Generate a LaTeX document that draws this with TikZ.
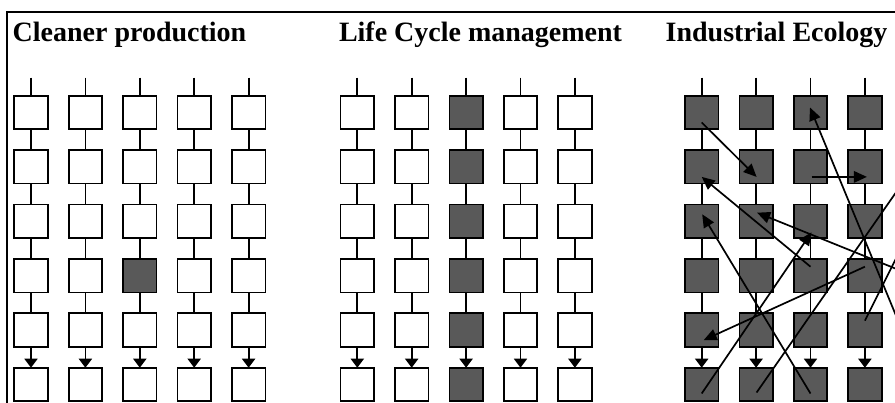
\documentclass[tikz,border=0pt]{standalone}
\usepackage{fontspec}
\setmainfont{Liberation Serif}
\usetikzlibrary{arrows.meta,calc}
\definecolor{boxgray}{RGB}{89,89,89}
\begin{document}
\begin{tikzpicture}[x=1pt,y=-1pt,
  box/.style={draw=black,line width=1.7pt,minimum size=33.5pt,inner sep=0pt,outer sep=0pt},
  link/.style={line width=1.8pt},
  flowdown/.style={line width=1.8pt,-{Triangle[length=9pt,width=13pt]}},
  jump/.style={line width=1.7pt,-{Triangle[length=13pt,width=11.5pt]}},
  frameline/.style={line width=1.8pt},
  title/.style={font=\bfseries\fontsize{28}{32}\selectfont,anchor=base west,inner sep=0pt}]
\useasboundingbox (0,0) rectangle (895,403);
\clip (0,0) rectangle (895,403);
\fill[white] (0,0) rectangle (895,403);
% frame
\draw[frameline] (6.7,403) -- (6.7,11.7) -- (895,11.7);
% titles
\node[title] (t1) at (12.5,42) {Cleaner production};
\node[title] (t2) at (338.8,42) {Life Cycle management};
\node[title] (t3) at (665.5,42) {Industrial Ecology};
% boxes
\foreach \p/\x in {1/31,2/357.3,3/701.7}{
  \foreach \c in {1,...,5}{
    \foreach \r in {1,...,6}{
      \pgfmathtruncatemacro\isdark{(\p==3)+(\p==2)*(\c==3)+(\p==1)*(\c==3)*(\r==4)}
      \ifnum\isdark>0 \def\fc{boxgray}\else\def\fc{white}\fi
      \node[box,fill=\fc] (p\p c\c r\r) at ({\x+(\c-1)*54.4},{112.5+(\r-1)*54.4}) {};
    }
    \coordinate (p\p c\c top) at ({\x+(\c-1)*54.4},77.7);
    \draw[link] (p\p c\c top) -- (p\p c\c r1.north);
    \foreach \r [evaluate=\r as \n using int(\r+1)] in {1,...,4}{
      \draw[link] (p\p c\c r\r.south) -- (p\p c\c r\n.north);
    }
    \draw[flowdown] (p\p c\c r5.south) -- (p\p c\c r6.north);
  }
}
% exchanges in the industrial ecology panel
\draw[jump] ($(p3c1r1)+(0,10)$) -- ($(p3c2r2)+(0.5,10)$);
\draw[jump] ($(p3c3r2)+(1,10)$) -- ($(p3c4r2)+(2,10)$);
\draw[jump] ($(p3c5r6)+(0,-12.5)$) -- ($(p3c3r1)+(-0.5,-5)$);
\draw[jump] ($(p3c3r4)+(0,-9)$) -- ($(p3c1r2)+(0,10)$);
\draw[jump] ($(p3c3r6)+(0,9)$) -- ($(p3c1r3)+(0.5,-7)$);
\draw[jump] ($(p3c5r4)+(0,2.5)$) -- ($(p3c2r3)+(1,-8.6)$);
\draw[jump] ($(p3c1r6)+(0,9)$) -- ($(p3c3r3)+(1,11)$);
\draw[jump] ($(p3c2r6)+(0.5,8)$) -- ($(p3c5r2)+(0,-8)$);
\draw[jump] ($(p3c4r5)+(0,-9.5)$) -- ($(p3c5r3)+(0,-9.5)$);
\draw[jump] ($(p3c4r4)+(0,-9)$) -- ($(p3c1r5)+(2,10)$);
\end{tikzpicture}
\end{document}
